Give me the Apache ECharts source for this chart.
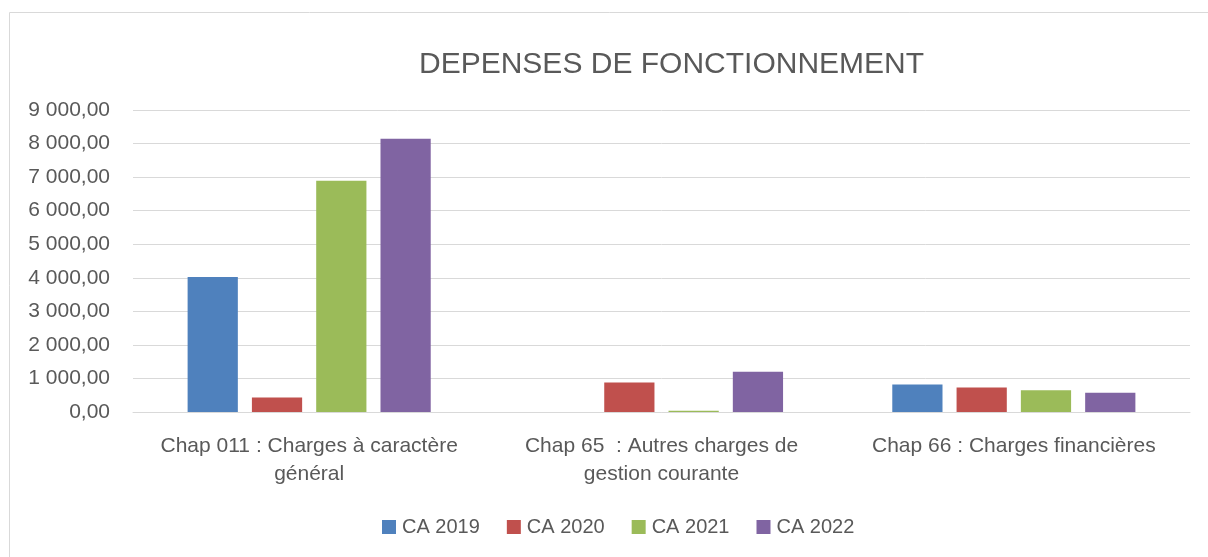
<!DOCTYPE html>
<html>
<head>
<meta charset="utf-8">
<script src="https://cdn.jsdelivr.net/npm/echarts@6/dist/echarts.min.js"></script>
<style>
    html, body { margin: 0; padding: 0; background: #fff; }
    #chart { width: 1208px; height: 557px; }
</style>
</head>
<body>
<div id="chart"></div>
<script>
const categories = [
    'Chap 011 : Charges à caractère\ngénéral',
    'Chap 65  : Autres charges de\ngestion courante',
    'Chap 66 : Charges financières',
];
const ca2019 = [4020, 0, 820];
const ca2020 = [430, 880, 730];
const ca2021 = [6890, 40, 650];
const ca2022 = [8140, 1200, 570];
const yTicks = [0, 1000, 2000, 3000, 4000, 5000, 6000, 7000, 8000, 9000];

const FONT = 'Liberation Sans';
const TEXT = '#595959';

/** 9000 -> "9 000,00" */
const fmt = (v) => {
    const [int, dec] = v.toFixed(2).split('.');
    return int.replace(/\B(?=(\d{3})+(?!\d))/g, ' ') + ',' + dec;
};

const makeSeries = (name, data, color) => {
    return {
        name: name,
        type: 'bar',
        data: data,
        barGap: '28%',
        barCategoryGap: '31%',
        itemStyle: { color: color },
        emphasis: { disabled: true },
    };
};

const chart = echarts.init(document.getElementById('chart'));
chart.setOption({
    animation: false,
    textStyle: { fontFamily: FONT },
    title: {
        text: 'DEPENSES DE FONCTIONNEMENT',
        left: 414,
        top: 45,
        textStyle: { color: TEXT, fontSize: 30, fontWeight: 'normal', fontFamily: FONT },
    },
    graphic: [{
        type: 'rect',
        shape: { x: 9.5, y: 12.5, width: 1300, height: 700 },
        style: { fill: 'none', stroke: '#D9D9D9', lineWidth: 1 },
        silent: true,
    }],
    legend: {
        top: 512,
        left: 377,
        itemWidth: 14,
        itemHeight: 14,
        itemGap: 27,
        icon: 'rect',
        textStyle: { color: TEXT, fontSize: 20, fontFamily: FONT, padding: [0, 0, 0, 1] },
        data: ['CA 2019', 'CA 2020', 'CA 2021', 'CA 2022'],
    },
    grid: { left: 133, right: 18, top: 110, bottom: 145, containLabel: false },
    xAxis: {
        type: 'category',
        data: categories,
        axisLine: { lineStyle: { color: '#D9D9D9', width: 1 } },
        axisTick: { show: false },
        axisLabel: {
            color: TEXT,
            fontSize: 21,
            lineHeight: 28,
            margin: 20,
            interval: 0,
            align: 'center',
        },
    },
    yAxis: {
        type: 'value',
        min: yTicks[0],
        max: yTicks[yTicks.length - 1],
        interval: 1000,
        axisLine: { show: false },
        axisTick: { show: false },
        splitLine: { lineStyle: { color: '#D9D9D9', width: 1 } },
        axisLabel: { color: TEXT, fontSize: 21, margin: 23, formatter: fmt },
    },
    series: [
        makeSeries('CA 2019', ca2019, '#4F81BD'),
        makeSeries('CA 2020', ca2020, '#C0504D'),
        makeSeries('CA 2021', ca2021, '#9BBB59'),
        makeSeries('CA 2022', ca2022, '#8064A2'),
    ],
});
</script>
</body>
</html>
